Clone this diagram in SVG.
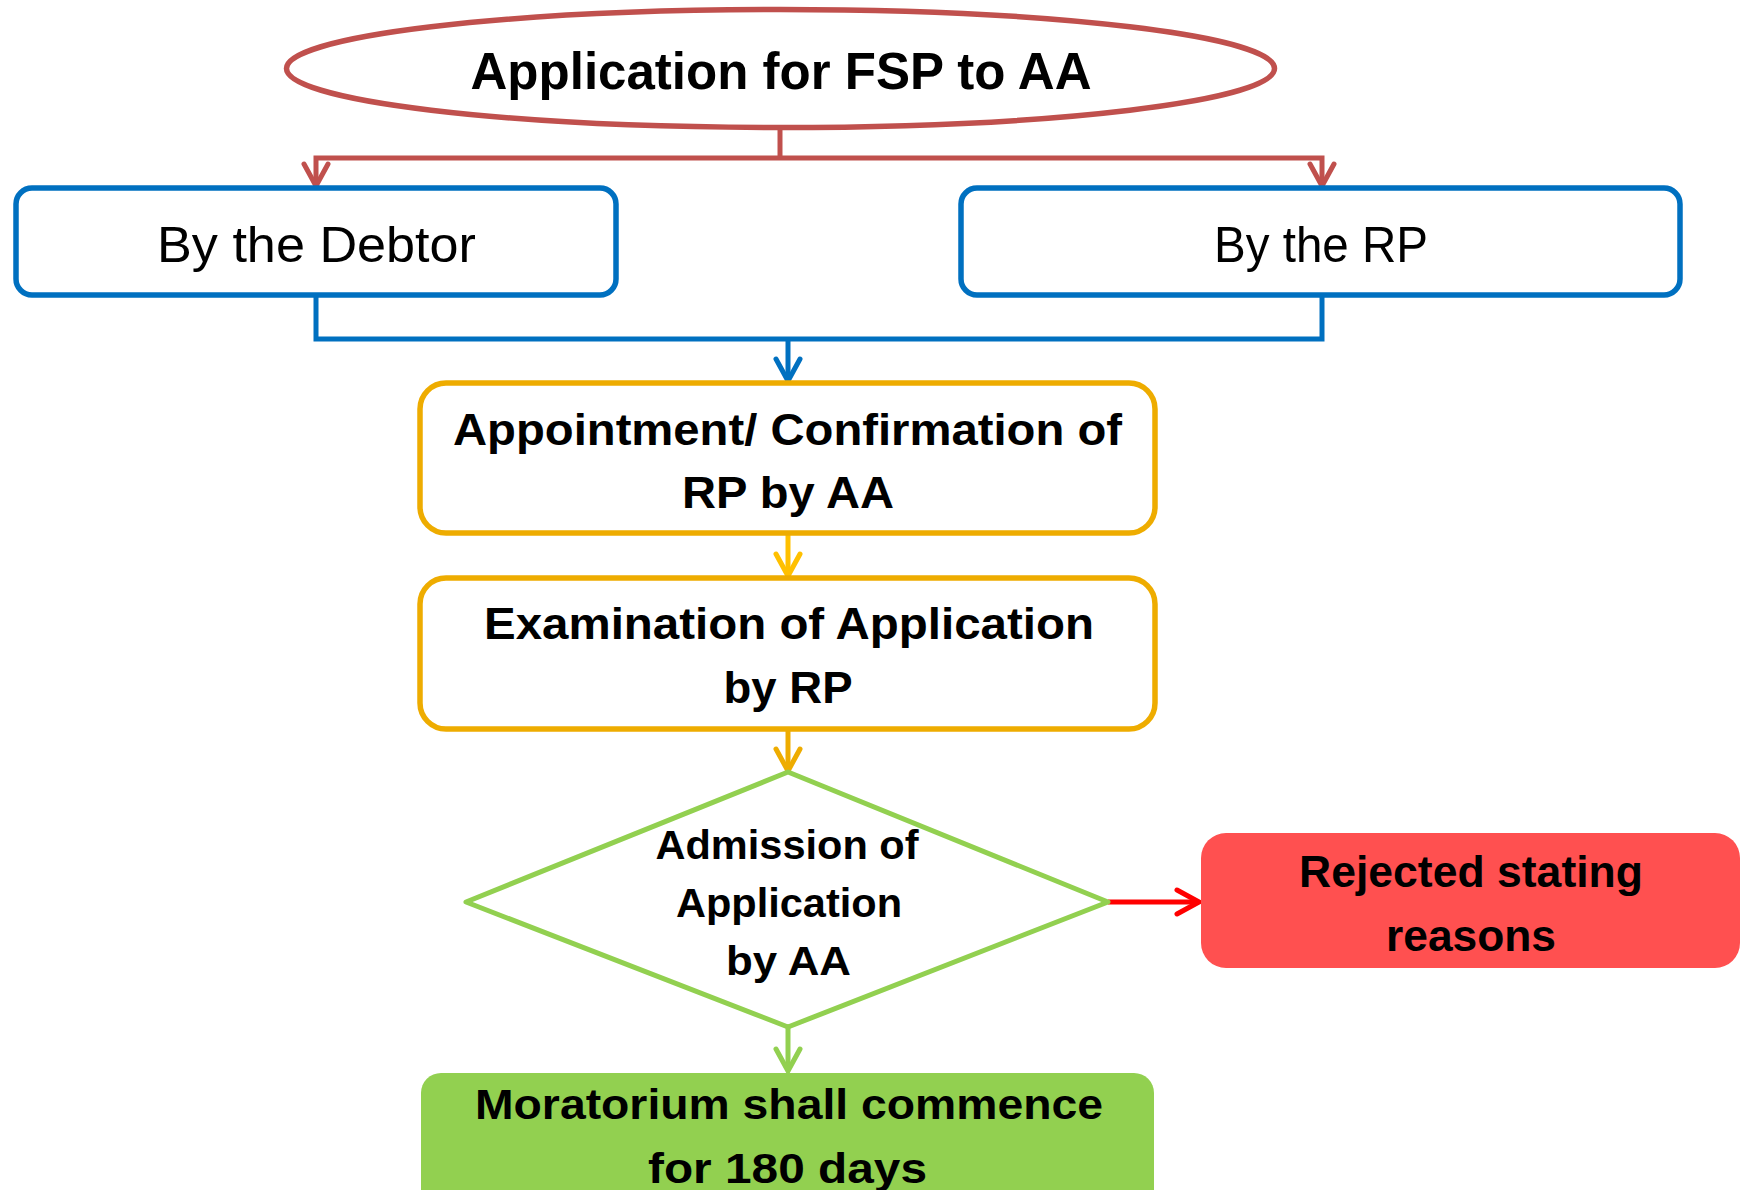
<svg xmlns="http://www.w3.org/2000/svg" width="1747" height="1190" viewBox="0 0 1747 1190">
<style>
text{font-family:"Liberation Sans",Arial,sans-serif;fill:#000;text-anchor:middle}
.b{font-weight:bold}
.box{fill:#fff;stroke-width:5.5}
.con{fill:none;stroke-width:5}
</style>
<defs>
<marker id="mRed" markerUnits="userSpaceOnUse" markerWidth="30" markerHeight="30" viewBox="-27 -15 30 30" refX="0" refY="0" orient="auto"><path d="M-22,-12 L0,0 L-22,12" fill="none" stroke="#C0504D" stroke-width="5" stroke-linecap="round"/></marker>
<marker id="mBlue" markerUnits="userSpaceOnUse" markerWidth="30" markerHeight="30" viewBox="-27 -15 30 30" refX="0" refY="0" orient="auto"><path d="M-22,-12 L0,0 L-22,12" fill="none" stroke="#0070C0" stroke-width="5" stroke-linecap="round"/></marker>
<marker id="mYel" markerUnits="userSpaceOnUse" markerWidth="30" markerHeight="30" viewBox="-27 -15 30 30" refX="0" refY="0" orient="auto"><path d="M-22,-12 L0,0 L-22,12" fill="none" stroke="#FFC000" stroke-width="5" stroke-linecap="round"/></marker>
<marker id="mOr" markerUnits="userSpaceOnUse" markerWidth="30" markerHeight="30" viewBox="-27 -15 30 30" refX="0" refY="0" orient="auto"><path d="M-22,-12 L0,0 L-22,12" fill="none" stroke="#EEAC00" stroke-width="5" stroke-linecap="round"/></marker>
<marker id="mGrn" markerUnits="userSpaceOnUse" markerWidth="30" markerHeight="30" viewBox="-27 -15 30 30" refX="0" refY="0" orient="auto"><path d="M-22,-12 L0,0 L-22,12" fill="none" stroke="#92D050" stroke-width="5" stroke-linecap="round"/></marker>
<marker id="mRR" markerUnits="userSpaceOnUse" markerWidth="30" markerHeight="30" viewBox="-27 -15 30 30" refX="0" refY="0" orient="auto"><path d="M-22,-12 L0,0 L-22,12" fill="none" stroke="#FF0000" stroke-width="5" stroke-linecap="round"/></marker>
</defs>
<rect width="1747" height="1190" fill="#fff"/>
<g id="connectors">
<path class="con" stroke="#C0504D" d="M780,128 V158"/>
<path class="con" stroke="#C0504D" d="M780,158 H316 V186" marker-end="url(#mRed)"/>
<path class="con" stroke="#C0504D" d="M780,158 H1322 V186" marker-end="url(#mRed)"/>
<path class="con" stroke="#0070C0" d="M316,295 V339 H1322 V295"/>
<path class="con" stroke="#0070C0" d="M788,339 V381" marker-end="url(#mBlue)"/>
<path class="con" stroke="#FFC000" d="M788,533 V576" marker-end="url(#mYel)"/>
<path class="con" stroke="#EEAC00" d="M788,729 V771" marker-end="url(#mOr)"/>
<path class="con" stroke="#92D050" d="M788,1027 V1071" marker-end="url(#mGrn)"/>
<path class="con" stroke="#FF0000" d="M1108,902 H1199" marker-end="url(#mRR)"/>
</g>
<g id="start">
<ellipse cx="780.5" cy="68.5" rx="494" ry="59" fill="#fff" stroke="#C0504D" stroke-width="5.5"/>
<text class="b" x="781" y="89" font-size="52" textLength="621" lengthAdjust="spacingAndGlyphs">Application for FSP to AA</text>
</g>
<g id="debtor">
<rect class="box" x="16" y="188" width="600" height="107" rx="16" stroke="#0070C0"/>
<text x="316.5" y="262" font-size="50" textLength="319" lengthAdjust="spacingAndGlyphs">By the Debtor</text>
</g>
<g id="rp">
<rect class="box" x="961" y="188" width="719" height="107" rx="16" stroke="#0070C0"/>
<text x="1321" y="262" font-size="50" textLength="214" lengthAdjust="spacingAndGlyphs">By the RP</text>
</g>
<g id="appointment">
<rect class="box" x="420" y="383" width="735" height="150" rx="26" stroke="#EEAC00"/>
<text class="b" x="787.5" y="445" font-size="45" textLength="669" lengthAdjust="spacingAndGlyphs">Appointment/ Confirmation of</text>
<text class="b" x="788" y="508" font-size="45" textLength="212" lengthAdjust="spacingAndGlyphs">RP by AA</text>
</g>
<g id="examination">
<rect class="box" x="420" y="578" width="735" height="151" rx="26" stroke="#EEAC00"/>
<text class="b" x="789" y="639" font-size="45" textLength="610" lengthAdjust="spacingAndGlyphs">Examination of Application</text>
<text class="b" x="788" y="703" font-size="45" textLength="129" lengthAdjust="spacingAndGlyphs">by RP</text>
</g>
<g id="admission">
<polygon points="788,772 1108,902 788,1027 466,902" fill="#fff" stroke="#92D050" stroke-width="5" stroke-linejoin="round"/>
<text class="b" x="787" y="859" font-size="40" textLength="263" lengthAdjust="spacingAndGlyphs">Admission of</text>
<text class="b" x="789" y="917" font-size="40" textLength="226" lengthAdjust="spacingAndGlyphs">Application</text>
<text class="b" x="788.5" y="975" font-size="40" textLength="125" lengthAdjust="spacingAndGlyphs">by AA</text>
</g>
<g id="rejected">
<rect x="1201" y="833" width="539" height="135" rx="25" fill="#FF5050"/>
<text class="b" x="1471" y="887" font-size="45" textLength="344" lengthAdjust="spacingAndGlyphs">Rejected stating</text>
<text class="b" x="1471" y="951" font-size="45" textLength="170" lengthAdjust="spacingAndGlyphs">reasons</text>
</g>
<g id="moratorium">
<rect x="421" y="1073" width="733" height="160" rx="20" fill="#92D050"/>
<text class="b" x="789" y="1119" font-size="43" textLength="628" lengthAdjust="spacingAndGlyphs">Moratorium shall commence</text>
<text class="b" x="787.5" y="1183" font-size="43" textLength="279" lengthAdjust="spacingAndGlyphs">for 180 days</text>
</g>
</svg>
